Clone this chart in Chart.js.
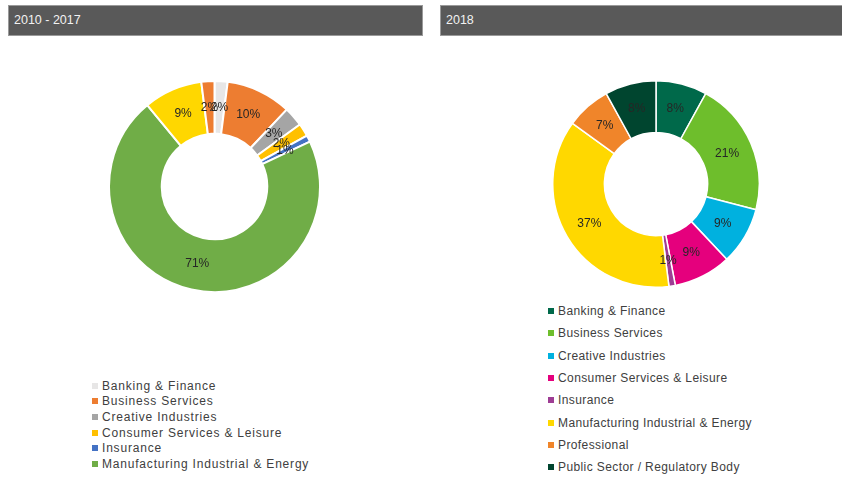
<!DOCTYPE html>
<html>
<head>
<meta charset="utf-8">
<script src="https://cdn.jsdelivr.net/npm/chart.js@4/dist/chart.umd.min.js"></script>
<style>
  body { margin: 0; background: #fff; font-family: "Liberation Sans", Arial, sans-serif; }
  #page { position: relative; width: 842px; height: 477px; overflow: hidden; }
  .bar { position: absolute; top: 5px; height: 31px; background: #595959; border: 1px solid #9a9a9a; box-sizing: border-box; color: #f2f2f2; font-size: 12.5px; line-height: 29px; padding-left: 5px; }
  canvas { position: absolute; }
  .legend { position: absolute; font-size: 12px; color: #404040; }
  .legend div { display: flex; align-items: center; white-space: nowrap; }
  .legend span.box { display: inline-block; width: 6px; height: 6px; margin-right: 4px; }
</style>
</head>
<body>
<div id="page">
  <div class="bar" style="left:8px; width:415px;">2010 - 2017</div>
  <div class="bar" style="left:440px; width:410px;">2018</div>
  <canvas id="leftChart" width="213" height="213" style="left:108px; top:80px;"></canvas>
  <canvas id="rightChart" width="208" height="208" style="left:552px; top:80px;"></canvas>
  <div class="legend" id="leftLegend" style="left:92px; top:378px; letter-spacing:0.8px;"></div>
  <div class="legend" id="rightLegend" style="left:548px; top:300px; letter-spacing:0.4px;"></div>
</div>
<script>
// 2010 - 2017 (last two slices are not listed in the legend)
const leftLabels = ["Banking & Finance", "Business Services", "Creative Industries", "Consumer Services & Leisure", "Insurance", "Manufacturing Industrial & Energy", "Other", "Professional"];
const leftValues = [2, 10, 3, 2, 1, 71, 9, 2];
const leftColors = ["#e7e6e6", "#ed7d31", "#a5a5a5", "#ffc000", "#4472c4", "#70ad47", "#ffd700", "#ed7d31"];
const leftLegendCount = 6;

// 2018
const rightLabels = ["Banking & Finance", "Business Services", "Creative Industries", "Consumer Services & Leisure", "Insurance", "Manufacturing Industrial & Energy", "Professional", "Public Sector / Regulatory Body"];
const rightValues = [8, 21, 9, 9, 1, 37, 7, 8];
const rightColors = ["#00694a", "#6ebe2c", "#00b1df", "#e5007d", "#9e3d94", "#ffd800", "#f0852a", "#00452f"];

// percent labels drawn in the middle of each slice
const sliceLabels = {
  id: 'sliceLabels',
  afterDatasetsDraw(chart) {
    const ctx = chart.ctx;
    const values = chart.data.datasets[0].data;
    ctx.save();
    ctx.font = '12px "Liberation Sans", Arial, sans-serif';
    ctx.fillStyle = '#262626';
    ctx.textAlign = 'center';
    ctx.textBaseline = 'middle';
    chart.getDatasetMeta(0).data.forEach((arc, i) => {
      const p = arc.tooltipPosition();
      ctx.fillText(values[i] + '%', p.x, p.y);
    });
    ctx.restore();
  }
};

function makeDonut(id, labels, values, colors, borderWidth) {
  return new Chart(document.getElementById(id), {
    type: 'doughnut',
    data: {
      labels: labels,
      datasets: [{ data: values, backgroundColor: colors, borderColor: '#ffffff', borderWidth: borderWidth }]
    },
    options: {
      responsive: false,
      animation: false,
      cutout: '50%',
      layout: { padding: 0 },
      plugins: { legend: { display: false }, tooltip: { enabled: false } }
    },
    plugins: [sliceLabels]
  });
}

function makeLegend(id, labels, colors, count, rowHeight) {
  const el = document.getElementById(id);
  for (let i = 0; i < count; i++) {
    const row = document.createElement('div');
    row.style.height = rowHeight + 'px';
    row.innerHTML = '<span class="box" style="background:' + colors[i] + '"></span>' + labels[i];
    el.appendChild(row);
  }
}

makeDonut('leftChart', leftLabels, leftValues, leftColors, 2);
makeDonut('rightChart', rightLabels, rightValues, rightColors, 1.5);
makeLegend('leftLegend', leftLabels, leftColors, leftLegendCount, 15.6);
makeLegend('rightLegend', rightLabels, rightColors, rightLabels.length, 22.3);
</script>
</body>
</html>
